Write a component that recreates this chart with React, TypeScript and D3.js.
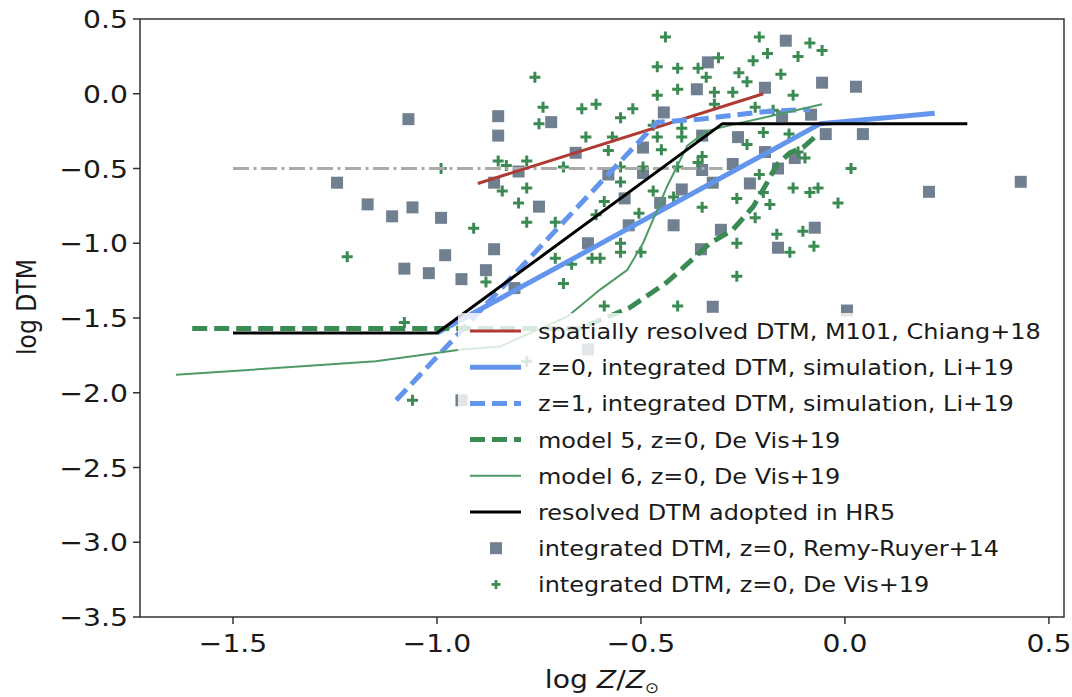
import React from "react";
import * as d3 from "d3";

// ---------- data ----------
const xTicks = [-1.5, -1.0, -0.5, 0.0, 0.5];
const yTicks = [0.5, 0.0, -0.5, -1.0, -1.5, -2.0, -2.5, -3.0, -3.5];

// Remy-Ruyer+14 integrated DTM (squares)
const rrX = [-1.07, -1.245, -1.17, -1.11, -1.06, -0.99, -0.98, -1.08, -1.02, -0.94, -0.88, -0.86, -0.85, -0.85, -0.86, -0.8, -0.75, -0.72, -0.81, -0.66, -0.63, -0.58, -0.54, -0.53, -0.495, -0.495, -0.453, -0.444, -0.42, -0.4, -0.363, -0.336, -0.35, -0.353, -0.324, -0.324, -0.304, -0.275, -0.262, -0.233, -0.196, -0.196, -0.145, -0.056, 0.027, -0.083, -0.154, -0.047, 0.044, -0.123, -0.164, 0.206, 0.431, -0.074, -0.164, 0.005, -0.63, -0.94, -0.35];
const rrY = [-0.17, -0.595, -0.74, -0.82, -0.76, -0.83, -1.08, -1.17, -1.2, -1.24, -1.18, -1.04, -0.15, -0.28, -0.595, -0.52, -0.755, -0.19, -1.3, -0.395, -1.0, -0.54, -0.7, -0.88, -0.36, -0.53, -0.73, -0.125, -0.88, -0.64, 0.03, 0.21, -0.28, -1.04, -1.425, -0.595, -0.91, -0.47, -0.29, -0.6, 0.04, -0.39, 0.355, 0.074, 0.047, -0.14, -0.15, -0.27, -0.27, -0.43, -0.5, -0.656, -0.589, -0.896, -1.03, -1.45, -1.71, -2.05, -0.51];

// De Vis+19 integrated DTM (plus)
const dvX = [-1.22, -0.99, -1.08, -1.06, -0.78, -0.91, -0.88, -0.85, -0.83, -0.78, -0.84, -0.78, -0.8, -0.78, -0.76, -0.74, -0.75, -0.69, -0.71, -0.71, -0.67, -0.69, -0.645, -0.61, -0.635, -0.62, -0.6, -0.58, -0.59, -0.61, -0.59, -0.55, -0.52, -0.57, -0.55, -0.55, -0.55, -0.55, -0.5, -0.505, -0.47, -0.47, -0.46, -0.46, -0.46, -0.45, -0.495, -0.44, -0.41, -0.41, -0.41, -0.42, -0.4, -0.4, -0.41, -0.36, -0.35, -0.36, -0.34, -0.35, -0.32, -0.32, -0.31, -0.275, -0.26, -0.265, -0.265, -0.265, -0.24, -0.225, -0.22, -0.24, -0.21, -0.19, -0.2, -0.21, -0.22, -0.115, -0.086, -0.056, -0.157, -0.127, -0.176, -0.137, -0.115, -0.098, 0.015, -0.127, -0.086, -0.066, -0.017, -0.184, -0.167, -0.103, -0.135, -0.076, -0.2];
const dvY = [-1.09, -0.5, -1.53, -2.05, -1.79, -0.9, -1.26, -0.45, -0.48, -0.45, -0.65, -0.63, -0.73, -0.86, 0.11, -0.09, -0.2, -0.49, -0.86, -1.1, -1.14, -1.27, -0.1, -0.07, -0.29, -1.1, -1.1, -0.38, -0.72, -0.81, -1.42, -0.16, -0.1, -0.29, -0.49, -0.59, -1.0, -1.06, -1.06, -0.8, -0.65, -0.21, -0.29, 0.18, -0.01, -0.375, -0.49, 0.38, 0.17, 0.03, -0.49, -0.69, -0.23, -0.29, -1.42, -0.46, -0.42, 0.17, 0.11, -0.76, 0.01, -0.07, 0.24, 0.01, 0.14, -0.7, -1.0, -1.22, 0.08, 0.22, -0.09, -0.34, 0.38, 0.27, -0.26, -0.54, -0.83, 0.25, 0.34, 0.29, 0.13, -0.01, -0.11, -0.27, -0.39, -0.43, -0.5, -0.63, -0.66, -0.63, -0.73, -0.74, -0.94, -0.92, -1.06, -1.02, -0.66];

// lines
const chiangX = [-0.9, -0.2];
const chiangY = [-0.6, 0.0];
const li0X = [-1.0, -0.06, 0.22];
const li0Y = [-1.6, -0.2, -0.13];
const li1X = [-1.1, -0.46, -0.355, -0.2, -0.086];
const li1Y = [-2.05, -0.19, -0.17, -0.12, -0.105];
const dv5X = [-1.6, -0.65, -0.57, -0.527, -0.436, -0.387, -0.331, -0.275, -0.225, -0.191, -0.167, -0.135, -0.103, -0.074];
const dv5Y = [-1.57, -1.57, -1.48, -1.43, -1.26, -1.14, -1.0, -0.91, -0.756, -0.595, -0.475, -0.395, -0.36, -0.29];
const dv6X = [-1.64, -1.15, -0.94, -0.845, -0.68, -0.6, -0.534, -0.495, -0.453, -0.436, -0.387, -0.34, -0.28, -0.2, -0.056];
const dv6Y = [-1.88, -1.79, -1.71, -1.69, -1.49, -1.31, -1.18, -1.0, -0.73, -0.62, -0.35, -0.25, -0.21, -0.16, -0.07];
const hr5X = [-1.5, -1.0, -0.3, 0.3];
const hr5Y = [-1.6, -1.6, -0.2, -0.2];
const refX = [-1.5, -0.3];
const refY = [-0.5, -0.5];

const legendLabels = [
  "spatially resolved DTM, M101, Chiang+18",
  "z=0, integrated DTM, simulation, Li+19",
  "z=1, integrated DTM, simulation, Li+19",
  "model 5, z=0, De Vis+19",
  "model 6, z=0, De Vis+19",
  "resolved DTM adopted in HR5",
  "integrated DTM, z=0, Remy-Ruyer+14",
  "integrated DTM, z=0, De Vis+19",
];

// ---------- styles ----------
const C_RED = "#b03a33";
const C_BLUE = "#6495ED";
const C_GREEN = "#3a8a54";
const C_GREEN6 = "#4e9b68";
const C_SQ = "#708090";
const C_PLUS = "#3a8a52";
const FONT = "'DejaVu Sans', sans-serif";

const L = 140, R = 1064, T = 19, B = 617;
const x = d3.scaleLinear().domain([-1.728, 0.537]).range([L, R]);
const y = d3.scaleLinear().domain([-3.5, 0.5]).range([B, T]);

const lineGen = d3.line<[number, number]>().x((d) => x(d[0])).y((d) => y(d[1]));
const path = (xs: number[], ys: number[]) => lineGen(xs.map((v, i) => [v, ys[i]] as [number, number])) || "";

const lineStyles = [
  { stroke: C_RED, width: 3, dash: "" },
  { stroke: C_BLUE, width: 5, dash: "" },
  { stroke: C_BLUE, width: 5, dash: "15 7" },
  { stroke: C_GREEN, width: 5, dash: "15 7" },
  { stroke: C_GREEN6, width: 2, dash: "" },
  { stroke: "#000", width: 3, dash: "" },
];

const fmt = (v: number) => (v < 0 ? "\u2212" : "") + Math.abs(v).toFixed(1);

export default function App() {
  const lines = [
    path(chiangX, chiangY),
    path(li0X, li0Y),
    path(li1X, li1Y),
    path(dv5X, dv5Y),
    path(dv6X, dv6Y),
    path(hr5X, hr5Y),
  ];
  const legX = 458, legY = 313, legW = 596, legH = 292;
  const rowY = (i: number) => 331 + i * 36.2;
  return (
    <svg width={1072} height={697} style={{ position: "absolute", left: 0, top: 0, background: "#fff" }} fontFamily={FONT}>
      <rect x={0} y={0} width={1072} height={697} fill="#fff" />
      {/* scatter */}
      {rrX.map((v, i) => (
        <rect key={"s" + i} x={x(v) - 6} y={y(rrY[i]) - 6} width={12} height={12} fill={C_SQ} />
      ))}
      {dvX.map((v, i) => (
        <path key={"p" + i} d={`M${x(v) - 5.5},${y(dvY[i])}h11M${x(v)},${y(dvY[i]) - 5.5}v11`} stroke={C_PLUS} strokeWidth={3} />
      ))}
      {/* reference dash-dot line */}
      <path d={path(refX, refY)} stroke="#aaaaaa" strokeWidth={3} fill="none" strokeDasharray="16 4.5 3 4.5" />
      {/* lines */}
      {lines.map((d, i) => (
        <path key={"l" + i} d={d} fill="none" stroke={lineStyles[i].stroke} strokeWidth={lineStyles[i].width}
          strokeDasharray={lineStyles[i].dash || undefined} strokeLinejoin="round" />
      ))}
      {/* axes frame */}
      <rect x={L} y={T} width={R - L} height={B - T} fill="none" stroke="#333" strokeWidth={1.5} />
      {xTicks.map((t) => (
        <g key={"xt" + t}>
          <line x1={x(t)} x2={x(t)} y1={B} y2={B + 7} stroke="#333" strokeWidth={1.5} />
          <text transform={`translate(${x(t)},${652}) scale(1.13,1)`} textAnchor="middle" fontSize={25} fill="#1a1a1a">{fmt(t)}</text>
        </g>
      ))}
      {yTicks.map((t) => (
        <g key={"yt" + t}>
          <line x1={L - 7} x2={L} y1={y(t)} y2={y(t)} stroke="#333" strokeWidth={1.5} />
          <text transform={`translate(${128},${y(t) + 9}) scale(1.13,1)`} textAnchor="end" fontSize={25} fill="#1a1a1a">{fmt(t)}</text>
        </g>
      ))}
      <text transform={`translate(${(L + R) / 2},${688}) scale(1.13,1)`} textAnchor="middle" fontSize={25} fill="#1a1a1a">
        log <tspan fontStyle="italic">Z</tspan>/<tspan fontStyle="italic">Z</tspan>
        <tspan fontSize={15} dy={5}>{"\u2299"}</tspan>
      </text>
      <text transform={`translate(36,${307}) scale(1.13,1) rotate(-90)`} textAnchor="middle" fontSize={23.5} fill="#1a1a1a">log DTM</text>
      {/* legend */}
      <rect x={legX} y={legY} width={legW} height={legH} rx={4} fill="#fff" fillOpacity={0.8} />
      {legendLabels.map((lab, i) => {
        const cy = rowY(i);
        let handle: React.ReactNode = null;
        if (i < 6) {
          const s = lineStyles[i];
          handle = <line x1={470} x2={521} y1={cy} y2={cy} stroke={s.stroke} strokeWidth={s.width} strokeDasharray={s.dash || undefined} />;
        } else if (i === 6) {
          handle = <rect x={496 - 6} y={cy - 6} width={12} height={12} fill={C_SQ} />;
        } else {
          handle = <path d={`M${496 - 4.5},${cy}h9M${496},${cy - 4.5}v9`} stroke={C_PLUS} strokeWidth={2.8} />;
        }
        return (
          <g key={"lg" + i}>
            {handle}
            <text transform={`translate(538,${cy + 8}) scale(1.09,1)`} fontSize={22} fill="#1a1a1a">{lab}</text>
          </g>
        );
      })}
    </svg>
  );
}
